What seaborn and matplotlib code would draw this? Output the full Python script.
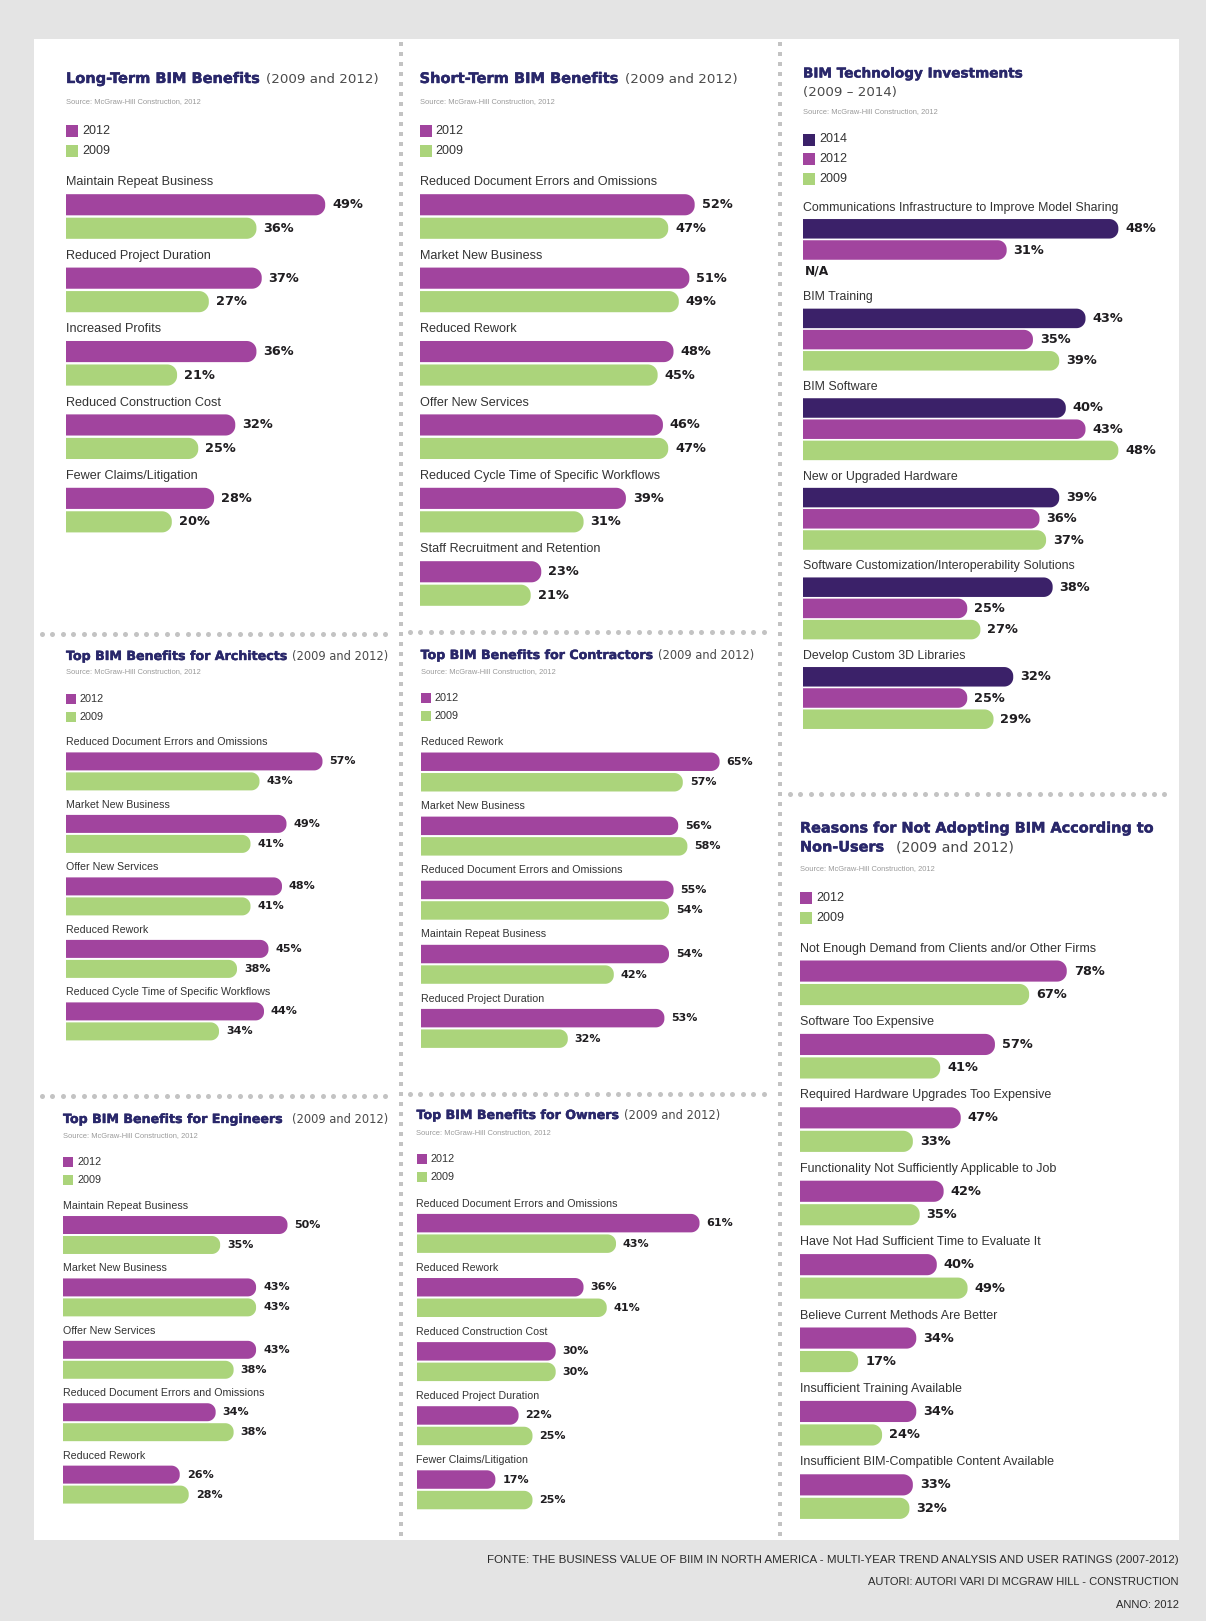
import numpy as np
import pandas as pd
import matplotlib
matplotlib.use("Agg")
import matplotlib.pyplot as plt
from matplotlib.patches import Rectangle, Polygon
from matplotlib import patheffects
import seaborn as sns

# ---------------------------------------------------------------- data
lt_cats = ["Maintain Repeat Business", "Reduced Project Duration", "Increased Profits",
           "Reduced Construction Cost", "Fewer Claims/Litigation"]
lt_2012 = [49, 37, 36, 32, 28]
lt_2009 = [36, 27, 21, 25, 20]

st_cats = ["Reduced Document Errors and Omissions", "Market New Business", "Reduced Rework",
           "Offer New Services", "Reduced Cycle Time of Specific Workflows",
           "Staff Recruitment and Retention"]
st_2012 = [52, 51, 48, 46, 39, 23]
st_2009 = [47, 49, 45, 47, 31, 21]

ti_cats = ["Communications Infrastructure to Improve Model Sharing", "BIM Training",
           "BIM Software", "New or Upgraded Hardware",
           "Software Customization/Interoperability Solutions", "Develop Custom 3D Libraries"]
ti_2014 = [48, 43, 40, 39, 38, 32]
ti_2012 = [31, 35, 43, 36, 25, 25]
ti_2009 = [np.nan, 39, 48, 37, 27, 29]   # not surveyed for the first item (N/A)

ar_cats = ["Reduced Document Errors and Omissions", "Market New Business", "Offer New Services",
           "Reduced Rework", "Reduced Cycle Time of Specific Workflows"]
ar_2012 = [57, 49, 48, 45, 44]
ar_2009 = [43, 41, 41, 38, 34]

co_cats = ["Reduced Rework", "Market New Business", "Reduced Document Errors and Omissions",
           "Maintain Repeat Business", "Reduced Project Duration"]
co_2012 = [65, 56, 55, 54, 53]
co_2009 = [57, 58, 54, 42, 32]

en_cats = ["Maintain Repeat Business", "Market New Business", "Offer New Services",
           "Reduced Document Errors and Omissions", "Reduced Rework"]
en_2012 = [50, 43, 43, 34, 26]
en_2009 = [35, 43, 38, 38, 28]

ow_cats = ["Reduced Document Errors and Omissions", "Reduced Rework", "Reduced Construction Cost",
           "Reduced Project Duration", "Fewer Claims/Litigation"]
ow_2012 = [61, 36, 30, 22, 17]
ow_2009 = [43, 41, 30, 25, 25]

nu_cats = ["Not Enough Demand from Clients and/or Other Firms", "Software Too Expensive",
           "Required Hardware Upgrades Too Expensive",
           "Functionality Not Sufficiently Applicable to Job",
           "Have Not Had Sufficient Time to Evaluate It", "Believe Current Methods Are Better",
           "Insufficient Training Available", "Insufficient BIM-Compatible Content Available"]
nu_2012 = [78, 57, 47, 42, 40, 34, 34, 33]
nu_2009 = [67, 41, 33, 35, 49, 17, 24, 32]

years2 = ["2012", "2009"]
years3 = ["2014", "2012", "2009"]

source_txt = "Source: McGraw-Hill Construction, 2012"
footer_lines = [
    "FONTE: THE BUSINESS VALUE OF BIIM IN NORTH AMERICA - MULTI-YEAR TREND ANALYSIS AND USER RATINGS (2007-2012)",
    "AUTORI: AUTORI VARI DI MCGRAW HILL - CONSTRUCTION",
    "ANNO: 2012",
]

# ---------------------------------------------------------------- style
W, H = 1206, 1621
C2014 = "#3b2169"
C2012 = "#a1449e"
C2009 = "#abd47b"
TITLE_C = "#29276a"
LABEL_C = "#333333"
VALUE_C = "#1f1d20"
DOT_C = "#c3c3c3"
BG_C = "#e4e4e4"

LABEL_FONT = ["Liberation Sans", "DejaVu Sans"]
NARROW_FONT = ["Liberation Sans Narrow", "Liberation Sans", "DejaVu Sans"]
HEAD_FONT = ["DejaVu Sans"]
HEAVY = [patheffects.Stroke(linewidth=0.3, foreground=TITLE_C), patheffects.Normal()]

fig = plt.figure(figsize=(W / 100, H / 100), dpi=100, facecolor=BG_C)

# full-figure pixel canvas for card, separators and headings
ax_bg = fig.add_axes([0, 0, 1, 1], zorder=0)
ax_bg.set_xlim(0, W)
ax_bg.set_ylim(H, 0)
ax_bg.axis("off")
ax_bg.add_patch(Rectangle((34, 39), 1145, 1501, facecolor="white", edgecolor="none"))

renderer = fig.canvas.get_renderer()


def dots_h(y, x0, x1, step=10.4):
    xs = np.arange(x0, x1, step)
    ax_bg.scatter(xs, np.full_like(xs, y), s=13, color=DOT_C, marker="o", linewidths=0)


def dots_v(x, y0, y1, step=10.0):
    ys = np.arange(y0, y1, step)
    ax_bg.scatter(np.full_like(ys, x), ys, s=10, color=DOT_C, marker="s", linewidths=0)


dots_v(401, 44, 1538)
dots_v(780, 44, 1538)
dots_h(633.5, 42, 394)
dots_h(1095.5, 42, 394)
dots_h(631.5, 410, 772)
dots_h(1093.5, 410, 772)
dots_h(793.5, 790, 1174)


def heading(x, y, bold, rest=None, fs_b=10.5, fs_r=9.6, gap=5):
    t = ax_bg.text(x, y, bold, fontsize=fs_b, fontweight="bold", color=TITLE_C,
                   va="baseline", ha="left", family=HEAD_FONT, path_effects=HEAVY)
    if rest:
        bb = t.get_window_extent(renderer=renderer)
        ax_bg.text(bb.x1 + gap, y, rest, fontsize=fs_r, color="#4a4a4a",
                   va="baseline", ha="left", family=HEAD_FONT)


def source(x, y):
    ax_bg.text(x, y, source_txt, fontsize=5.4, color="#9a9a9a", va="center",
               ha="left", family=LABEL_FONT)


def legend(x, y, years, colors, sq, fs, dy):
    for k, (yr, c) in enumerate(zip(years, colors)):
        yy = y + k * dy
        ax_bg.add_patch(Rectangle((x, yy - sq / 2), sq, sq, facecolor=c, edgecolor="none"))
        ax_bg.text(x + sq + 4, yy, yr, va="center", ha="left", fontsize=fs,
                   family=NARROW_FONT, color="#333333")


def rounded_outline(x, y, w, h, rx, ry, n=14):
    """Bar outline with a flat left edge and a rounded right end."""
    rx = min(rx, w)
    ry = min(ry, h / 2)
    t = np.linspace(0, np.pi / 2, n)
    cx = x + w - rx
    c1 = np.column_stack([cx + rx * np.sin(t), y + ry - ry * np.cos(t)])
    c2 = np.column_stack([cx + rx * np.cos(t), y + h - ry + ry * np.sin(t)])
    return np.vstack([[x, y], c1, c2, [x, y + h]])


def bar_panel(cats, series, years, colors, x0, x1, center0, step, scale,
              lab_fs, val_fs, width=0.64, gap=0.1, lab_off=0.465, top_pad=0.8,
              na_text=False):
    n = len(cats)
    y_top = center0 - top_pad * step
    y_bot = center0 + (n - 0.5) * step
    ax = fig.add_axes([x0 / W, 1 - y_bot / H, (x1 - x0) / W, (y_bot - y_top) / H], zorder=2)
    ax.patch.set_alpha(0)

    df = pd.concat([pd.DataFrame({"category": cats, "year": yr, "value": vals})
                    for yr, vals in zip(years, series)], ignore_index=True)
    sns.barplot(data=df, x="value", y="category", hue="year", order=cats,
                hue_order=years, palette=dict(zip(years, colors)), orient="h",
                width=width, gap=gap, saturation=1, errorbar=None, legend=False, ax=ax)

    ax.set_xlim(0, (x1 - x0) / scale)
    ax.set_ylim(n - 0.5, -top_pad)
    ax.axis("off")

    # give every bar a rounded right-hand end (radius in pixels -> data units)
    bar_h_px = width / len(years) * (1 - gap) * step
    r_px = 0.46 * bar_h_px
    for cont in ax.containers:
        for p in cont.patches:
            x, y = p.get_xy()
            w, h = p.get_width(), p.get_height()
            p.set_visible(False)
            if not np.isfinite(w) or w <= 0:
                continue
            ax.add_patch(Polygon(rounded_outline(x, y, w, h, r_px / scale, r_px / step),
                                 closed=True, facecolor=p.get_facecolor(),
                                 edgecolor="none", linewidth=0))
        ax.bar_label(cont, fmt=lambda v: "" if not np.isfinite(v) else f"{v:.0f}%",
                     padding=5, fontsize=val_fs, fontweight="bold", color=VALUE_C,
                     family=HEAD_FONT)

    for i, c in enumerate(cats):
        ax.text(0, i - lab_off, c, ha="left", va="center", fontsize=lab_fs,
                color=LABEL_C, family=LABEL_FONT)

    if na_text:
        slot = width / len(years)
        for i in range(n):
            for j, vals in enumerate(series):
                if not np.isfinite(vals[i]):
                    ax.text(0.3, i + (j - (len(years) - 1) / 2) * slot, "N/A",
                            ha="left", va="center", fontsize=val_fs - 0.5,
                            fontweight="bold", color=VALUE_C, family=HEAD_FONT)
    return ax


# ---------------------------------------------------------------- panels
# Long-term benefits
heading(66, 83, "Long-Term BIM Benefits", "(2009 and 2012)")
source(66, 102)
legend(66, 131, years2, [C2012, C2009], 12, 9, 20)
bar_panel(lt_cats, [lt_2012, lt_2009], years2, [C2012, C2009],
          66, 396, 216.5, 73.4, 5.29, 9.1, 9.3)

# Short-term benefits
heading(419.6, 83, "Short-Term BIM Benefits", "(2009 and 2012)")
source(419.6, 102)
legend(419.6, 131, years2, [C2012, C2009], 12, 9, 20)
bar_panel(st_cats, [st_2012, st_2009], years2, [C2012, C2009],
          419.6, 776, 216.5, 73.4, 5.29, 9.1, 9.3)

# Technology investments
heading(803, 77.5, "BIM Technology Investments", fs_b=9.8)
ax_bg.text(803, 96, "(2009 \u2013 2014)", fontsize=9.6, color="#4a4a4a",
           va="baseline", ha="left", family=HEAD_FONT)
source(803, 112)
legend(803, 139.5, years3, [C2014, C2012, C2009], 12, 9, 19.6)
bar_panel(ti_cats, [ti_2014, ti_2012, ti_2009], years3, [C2014, C2012, C2009],
          803, 1176, 250, 89.6, 6.57, 8.9, 9.3, width=0.71, gap=0.08,
          lab_off=0.47, top_pad=0.85, na_text=True)

# Architects
heading(66, 660, "Top BIM Benefits for Architects", "(2009 and 2012)", fs_b=9.1, fs_r=8.3)
source(66, 672)
legend(66, 699, years2, [C2012, C2009], 10, 7.8, 18)
bar_panel(ar_cats, [ar_2012, ar_2009], years2, [C2012, C2009],
          66, 396, 771.4, 62.5, 4.5, 7.7, 8.0)

# Contractors
heading(420.6, 659, "Top BIM Benefits for Contractors", "(2009 and 2012)", fs_b=9.1, fs_r=8.3)
source(420.6, 672)
legend(420.6, 698, years2, [C2012, C2009], 10, 7.8, 18)
bar_panel(co_cats, [co_2012, co_2009], years2, [C2012, C2009],
          420.6, 776, 772, 64.1, 4.6, 7.7, 8.0)

# Engineers
heading(63, 1123, "Top BIM Benefits for Engineers", "(2009 and 2012)", fs_b=9.1, fs_r=8.3, gap=10)
source(63, 1136)
legend(63, 1162, years2, [C2012, C2009], 10, 7.8, 18)
bar_panel(en_cats, [en_2012, en_2009], years2, [C2012, C2009],
          63, 396, 1235, 62.4, 4.49, 7.7, 8.0)

# Owners
heading(416.5, 1119, "Top BIM Benefits for Owners", "(2009 and 2012)", fs_b=9.1, fs_r=8.3)
source(416.5, 1133)
legend(416.5, 1159, years2, [C2012, C2009], 10, 7.8, 18)
bar_panel(ow_cats, [ow_2012, ow_2009], years2, [C2012, C2009],
          416.5, 776, 1233.4, 64.1, 4.64, 7.7, 8.0)

# Non-users
heading(800, 832.5, "Reasons for Not Adopting BIM According to", fs_b=10.4)
heading(800, 851.5, "Non-Users", "(2009 and 2012)", fs_b=10.4, fs_r=10.2, gap=12)
source(800, 869)
legend(800, 898, years2, [C2012, C2009], 12, 9, 19.6)
bar_panel(nu_cats, [nu_2012, nu_2009], years2, [C2012, C2009],
          800, 1176, 982.8, 73.4, 3.42, 9.0, 9.3)

# ---------------------------------------------------------------- footer
for txt, y in zip(footer_lines, [1560, 1582, 1605]):
    t = ax_bg.text(1179, y, txt, ha="right", va="center", fontsize=8,
                   family=NARROW_FONT, color="#2a2a2a")
    if txt.startswith("FONTE"):
        wpx = t.get_window_extent(renderer=renderer).width
        t.set_fontsize(8 * 686 / wpx)

fig.savefig("out.png", dpi=100, facecolor=fig.get_facecolor())
